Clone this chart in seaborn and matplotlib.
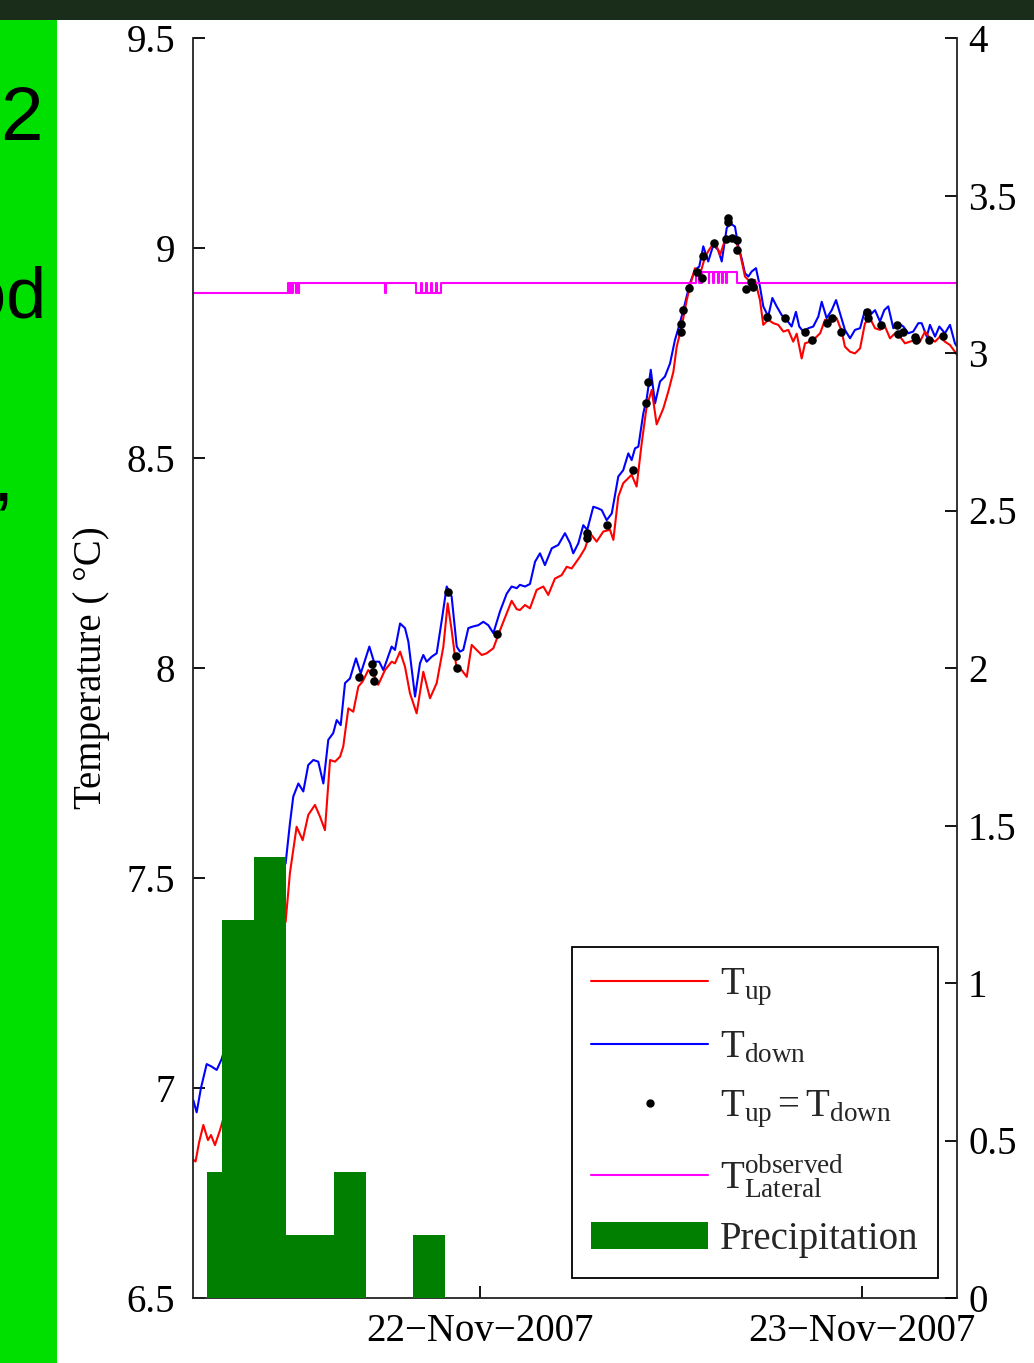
import numpy as np
import pandas as pd
import matplotlib
matplotlib.use("Agg")
import matplotlib.pyplot as plt
import matplotlib.dates as mdates
from matplotlib.patches import Rectangle
from matplotlib.lines import Line2D
import seaborn as sns

# hours since 21-Nov-2007 00:00
hours_down = [6.02, 6.23, 6.50, 6.86, 7.17, 7.49, 7.80, 8.83, 9.77, 10.84, 11.82, 12.09, 12.30, 12.62,
              12.93, 13.24, 13.56, 13.87, 14.19, 14.50, 14.81, 15.03, 15.28, 15.55, 15.86, 16.24, 16.54,
              17.08, 17.37, 17.70, 17.96, 18.48, 18.69, 19.01, 19.32, 19.53, 19.95, 20.26, 20.47, 20.68,
              21.00, 21.31, 21.63, 21.94, 22.25, 22.57, 22.77, 22.98, 23.30, 23.61, 23.93, 24.24, 24.55,
              24.87, 25.29, 25.71, 26.02, 26.34, 26.54, 26.86, 27.17, 27.49, 27.80, 28.11, 28.54, 28.95,
              29.37, 29.69, 29.89, 30.21, 30.52, 30.77, 31.15, 31.46, 31.68, 31.99, 32.31, 32.72, 33.03,
              33.35, 33.56, 33.77, 33.98, 34.29, 34.50, 34.76, 35.03, 35.34, 35.65, 35.97, 36.28, 36.59,
              36.91, 37.22, 37.54, 37.81, 38.06, 38.37, 38.69, 39.00, 39.22, 39.53, 39.74, 40.05, 40.26,
              40.47, 40.68, 40.89, 41.10, 41.37, 41.62, 41.83, 42.14, 42.40, 42.67, 42.99, 43.30, 43.61,
              43.88, 44.09, 44.34, 44.66, 44.97, 45.29, 45.50, 45.81, 46.13, 46.40, 46.65, 46.96, 47.28,
              47.59, 47.91, 48.22, 48.53, 48.85, 49.16, 49.43, 49.68, 50.00, 50.31, 50.63, 50.94, 51.25,
              51.57, 51.78, 52.10, 52.30, 52.62, 52.89, 53.24, 53.56, 53.87, 54.00]
temp_down = [6.971, 6.942, 7.000, 7.057, 7.051, 7.043, 7.069, 7.200, 7.370, 7.460, 7.535, 7.630, 7.694,
             7.725, 7.706, 7.769, 7.781, 7.777, 7.725, 7.829, 7.845, 7.876, 7.864, 7.964, 7.975, 8.023,
             7.987, 8.051, 8.015, 8.015, 7.995, 8.051, 8.043, 8.106, 8.095, 8.063, 7.932, 8.011, 8.031,
             8.015, 8.027, 8.035, 8.114, 8.194, 8.170, 8.051, 8.039, 8.043, 8.095, 8.099, 8.102, 8.110,
             8.102, 8.083, 8.135, 8.177, 8.194, 8.190, 8.198, 8.194, 8.200, 8.253, 8.273, 8.245, 8.285,
             8.293, 8.321, 8.297, 8.273, 8.297, 8.340, 8.329, 8.384, 8.380, 8.376, 8.352, 8.368, 8.456,
             8.471, 8.511, 8.495, 8.523, 8.527, 8.606, 8.640, 8.710, 8.630, 8.682, 8.694, 8.725, 8.781,
             8.821, 8.868, 8.916, 8.948, 8.956, 9.004, 8.968, 9.007, 8.995, 8.968, 9.047, 9.059, 9.051,
             9.004, 8.975, 8.940, 8.932, 8.944, 8.952, 8.908, 8.861, 8.837, 8.881, 8.861, 8.840, 8.829,
             8.813, 8.848, 8.813, 8.801, 8.809, 8.813, 8.837, 8.872, 8.833, 8.852, 8.876, 8.844, 8.805,
             8.785, 8.805, 8.809, 8.852, 8.840, 8.852, 8.825, 8.852, 8.861, 8.809, 8.821, 8.813, 8.797,
             8.801, 8.821, 8.821, 8.789, 8.817, 8.789, 8.813, 8.797, 8.817, 8.773, 8.765]

hours_up = [6.02, 6.16, 6.38, 6.65, 6.94, 7.13, 7.38, 7.70, 8.83, 9.77, 10.84, 11.82, 12.09, 12.51, 12.89,
            13.24, 13.66, 13.98, 14.29, 14.61, 14.92, 15.24, 15.44, 15.76, 16.07, 16.39, 16.66, 17.01,
            17.43, 17.64, 18.06, 18.48, 18.69, 19.01, 19.32, 19.63, 20.05, 20.47, 20.89, 21.31, 21.73,
            22.00, 22.25, 22.57, 22.88, 23.20, 23.51, 23.82, 24.14, 24.45, 24.87, 25.29, 25.71, 26.02,
            26.34, 26.54, 26.86, 27.17, 27.59, 28.01, 28.32, 28.74, 29.16, 29.48, 29.79, 30.31, 30.63,
            30.94, 31.36, 31.78, 32.20, 32.41, 32.72, 33.03, 33.56, 33.87, 34.19, 34.50, 34.82, 35.13,
            35.55, 35.86, 36.18, 36.39, 36.70, 37.02, 37.33, 37.54, 37.85, 38.17, 38.48, 38.80, 39.11,
            39.42, 39.74, 40.05, 40.37, 40.68, 40.99, 41.31, 41.62, 41.83, 42.14, 42.46, 42.77, 43.09,
            43.40, 43.71, 43.93, 44.24, 44.45, 44.77, 45.08, 45.40, 45.71, 46.03, 46.44, 46.76, 46.96,
            47.28, 47.59, 47.91, 48.22, 48.53, 48.85, 49.16, 49.48, 49.79, 50.11, 50.42, 50.73, 51.05,
            51.36, 51.67, 51.99, 52.30, 52.62, 52.93, 53.24, 53.56, 53.87, 54.00]
temp_up = [6.829, 6.825, 6.870, 6.912, 6.876, 6.888, 6.864, 6.900, 7.050, 7.220, 7.320, 7.396, 7.512,
           7.622, 7.590, 7.650, 7.674, 7.646, 7.614, 7.781, 7.777, 7.789, 7.813, 7.904, 7.896, 7.956,
           7.968, 7.995, 7.979, 7.960, 7.995, 8.015, 8.011, 8.039, 8.003, 7.940, 7.892, 7.991, 7.928,
           7.964, 8.051, 8.154, 8.090, 7.995, 7.995, 7.979, 8.055, 8.043, 8.031, 8.035, 8.047, 8.090,
           8.130, 8.160, 8.140, 8.138, 8.150, 8.142, 8.186, 8.194, 8.174, 8.213, 8.221, 8.241, 8.237,
           8.265, 8.285, 8.321, 8.301, 8.325, 8.329, 8.305, 8.408, 8.440, 8.460, 8.432, 8.535, 8.622,
           8.662, 8.580, 8.618, 8.658, 8.705, 8.765, 8.813, 8.876, 8.924, 8.952, 8.936, 8.979, 8.999,
           9.015, 8.983, 9.019, 9.027, 9.023, 8.987, 8.932, 8.920, 8.924, 8.876, 8.817, 8.829, 8.821,
           8.817, 8.801, 8.805, 8.777, 8.796, 8.737, 8.773, 8.777, 8.785, 8.797, 8.829, 8.825, 8.833,
           8.801, 8.765, 8.753, 8.749, 8.761, 8.821, 8.833, 8.809, 8.805, 8.813, 8.785, 8.797, 8.789,
           8.773, 8.777, 8.781, 8.777, 8.801, 8.785, 8.777, 8.789, 8.777, 8.769, 8.753, 8.745]

hours_equal = [16.45, 17.23, 17.33, 17.39, 22.04, 22.52, 22.57, 25.08, 30.73, 30.73, 31.99, 33.62, 34.46,
               34.61, 36.64, 36.68, 36.80, 37.18, 37.68, 37.96, 38.06, 38.73, 39.49, 39.59, 39.63, 39.84,
               40.16, 40.20, 40.74, 41.06, 41.20, 42.04, 43.19, 44.45, 44.87, 45.81, 46.13, 46.69, 48.33,
               48.41, 49.20, 50.21, 50.31, 50.63, 51.36, 51.42, 52.26, 53.10]
temp_equal = [7.979, 8.010, 7.991, 7.969, 8.180, 8.029, 7.999, 8.080, 8.321, 8.309, 8.340, 8.471, 8.630,
              8.680, 8.801, 8.819, 8.852, 8.904, 8.942, 8.928, 8.981, 9.013, 9.021, 9.063, 9.071, 9.023,
              9.019, 8.995, 8.902, 8.920, 8.908, 8.835, 8.833, 8.801, 8.781, 8.821, 8.833, 8.801, 8.848,
              8.833, 8.817, 8.817, 8.795, 8.801, 8.789, 8.781, 8.781, 8.790]

hours_lateral = [6.00, 11.96, 12.00, 12.04, 12.08, 12.12, 12.16, 12.20, 12.24, 12.28, 12.50, 12.53, 12.64,
                 12.67, 18.07, 18.11, 19.98, 20.35, 20.40, 20.66, 20.71, 20.97, 21.02, 21.29, 21.34, 21.60,
                 37.60, 37.80, 38.00, 38.40, 38.45, 38.70, 38.75, 39.00, 39.05, 39.25, 39.30, 39.50, 39.55,
                 40.20, 54.00]
temp_lateral = [8.892, 8.917, 8.892, 8.917, 8.892, 8.917, 8.892, 8.917, 8.892, 8.917, 8.892, 8.917, 8.892,
                8.917, 8.892, 8.917, 8.892, 8.917, 8.892, 8.917, 8.892, 8.917, 8.892, 8.917, 8.892, 8.917,
                8.943, 8.917, 8.943, 8.917, 8.943, 8.917, 8.943, 8.917, 8.943, 8.917, 8.943, 8.917, 8.943,
                8.917, 8.917]

# hourly precipitation, hour at which each bar starts
precip_start = [6.85, 7.85, 8.85, 9.85, 10.85, 11.85, 12.85, 13.85, 14.85, 15.85, 19.85, 20.85]
precip_mm = [0.4, 1.2, 1.2, 1.4, 1.4, 0.2, 0.2, 0.2, 0.4, 0.4, 0.2, 0.2]

start_day = pd.Timestamp("2007-11-21")


def to_time(hours):
    return start_day + pd.to_timedelta(np.asarray(hours), unit="h")


sns.set_theme(style="ticks")
plt.rcParams["font.family"] = ["Liberation Serif", "DejaVu Serif"]
plt.rcParams["mathtext.fontset"] = "custom"
plt.rcParams["mathtext.rm"] = "Liberation Serif"
plt.rcParams["mathtext.it"] = "Liberation Serif:italic"
plt.rcParams["axes.linewidth"] = 1.3

fs = 28
fig = plt.figure(figsize=(10.34, 13.63), dpi=100)
fig.patch.set_facecolor("white")

# slide background pieces
fig.patches.append(Rectangle((0, 0), 57 / 1034, 1 - 20 / 1363, transform=fig.transFigure,
                             facecolor="#00e000", edgecolor="none"))
fig.patches.append(Rectangle((0, 1 - 20 / 1363), 1, 20 / 1363, transform=fig.transFigure,
                             facecolor="#1a2d1a", edgecolor="none"))
fig.text(0.0416, 0.8973, "2", fontsize=55, family="Liberation Sans", ha="right", va="baseline",
         color="black")
fig.text(0.0445, 0.7667, "od", fontsize=52, family="Liberation Sans", ha="right", va="baseline",
         color="black")
fig.text(0.0125, 0.633, ",", fontsize=55, family="Liberation Sans", ha="right", va="baseline",
         color="black")

ax = fig.add_axes([193 / 1034, 1 - 1298 / 1363, 764 / 1034, 1260 / 1363])
ax.patch.set_alpha(0)

sns.lineplot(x=to_time(hours_down), y=temp_down, ax=ax, color="#0000ff", linewidth=1.5,
             estimator=None, label="down")
sns.lineplot(x=to_time(hours_up), y=temp_up, ax=ax, color="#ff0000", linewidth=1.5,
             estimator=None, label="up")
sns.lineplot(x=to_time(hours_lateral), y=temp_lateral, ax=ax, color="#ff00ff", linewidth=1.5,
             estimator=None, drawstyle="steps-post", label="lat")
sns.scatterplot(x=to_time(hours_equal), y=temp_equal, ax=ax, color="black", s=38,
                edgecolor="black", linewidth=0, zorder=5, label="eq")
if ax.get_legend() is not None:
    ax.get_legend().remove()

ax2 = ax.twinx()
bars = ax2.bar(to_time(precip_start), precip_mm, width=1 / 24, align="edge",
               color="#007f00", edgecolor="none", linewidth=0)

ax.set_xlim(start_day + pd.Timedelta(hours=6), start_day + pd.Timedelta(hours=54))
ax.set_ylim(6.5, 9.5)
ax2.set_ylim(0, 4)

left_ticks = np.arange(6.5, 9.51, 0.5)
right_ticks = np.arange(0, 4.01, 0.5)
ax.set_yticks(left_ticks)
ax.set_yticklabels([f"{v:g}" for v in left_ticks])
ax2.set_yticks(right_ticks)
ax2.set_yticklabels([f"{v:g}" for v in right_ticks])
ax.xaxis.set_major_locator(mdates.DayLocator())
ax.xaxis.set_major_formatter(mdates.DateFormatter("%d\u2212%b\u2212%Y"))

ax.tick_params(axis="y", direction="in", length=8.6, width=1.3, labelsize=fs, pad=13, colors="black")
ax.tick_params(axis="x", direction="in", length=8.6, width=1.3, labelsize=fs, pad=11, colors="black")
ax2.tick_params(axis="y", direction="in", length=8.6, width=1.3, labelsize=fs, pad=8, colors="black")

for sp in ["top", "right"]:
    ax.spines[sp].set_visible(False)
for sp in ["top", "left", "bottom"]:
    ax2.spines[sp].set_visible(False)
for a in (ax, ax2):
    for sp in a.spines.values():
        sp.set_color("#222222")

ax.set_xlabel("")
ax.set_ylabel("Temperature ( \u00b0C)", fontsize=fs, labelpad=12, color="black")

handles = [Line2D([], [], color="#ff0000", linewidth=1.5),
           Line2D([], [], color="#0000ff", linewidth=1.5),
           Line2D([], [], linestyle="none", marker="o", markersize=5, color="black"),
           Line2D([], [], color="#ff00ff", linewidth=1.5),
           bars.patches[0]]
labels = [r"$\mathrm{T_{up}}$", r"$\mathrm{T_{down}}$", r"$\mathrm{T_{up}{=}T_{down}}$",
          r"$\mathrm{T_{Lateral}^{observed}}$", "Precipitation"]
leg = ax2.legend(handles, labels, loc="lower right", bbox_to_anchor=(0.975, 0.016), fontsize=fs,
                 frameon=True, fancybox=False, framealpha=1, edgecolor="black",
                 handlelength=3.0, handletextpad=0.3, borderpad=0.5, labelspacing=0.55,
                 borderaxespad=0)
leg.get_frame().set_linewidth(1.3)

fig.savefig("out.png", dpi=100)
